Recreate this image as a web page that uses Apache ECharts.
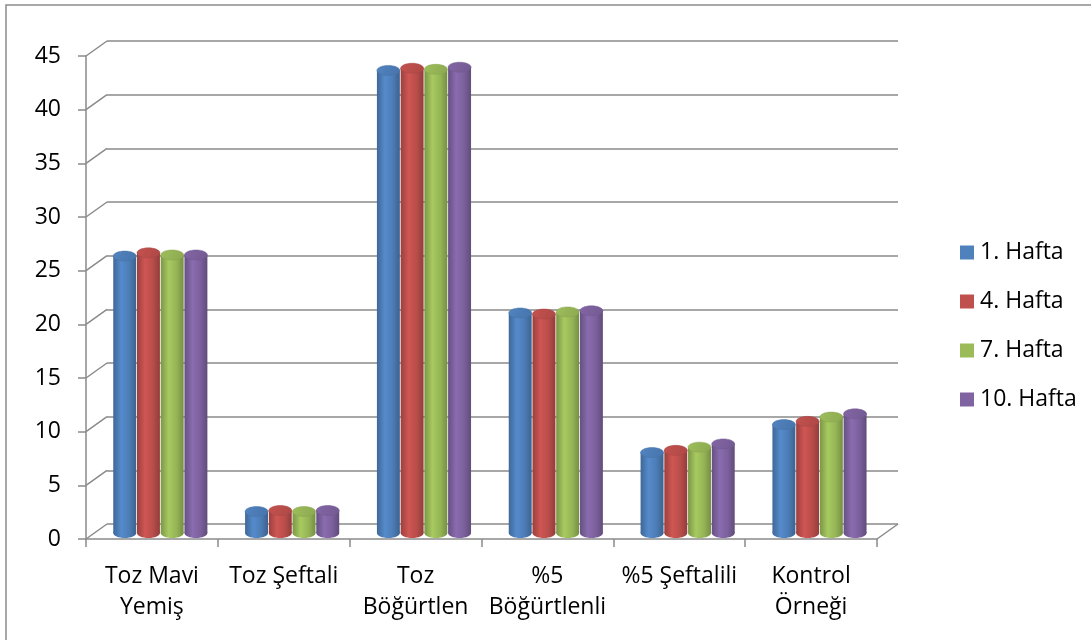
<!DOCTYPE html>
<html>
<head>
<meta charset="utf-8">
<script src="https://cdn.jsdelivr.net/npm/echarts@6/dist/echarts.min.js"></script>
<style>
  html, body { margin: 0; padding: 0; background: #ffffff; }
  #chart { width: 1091px; height: 640px; }
</style>
</head>
<body>
<div id="chart"></div>
<script>
// Categories and weekly measurements
const categories = ['Toz Mavi\nYemiş', 'Toz Şeftali', 'Toz\nBöğürtlen', '%5\nBöğürtlenli', '%5 Şeftalili', 'Kontrol\nÖrneği'];
const week1  = [25.8, 2.0, 43.1, 20.5, 7.5, 10.1];
const week4  = [26.1, 2.1, 43.3, 20.4, 7.7, 10.4];
const week7  = [25.9, 2.0, 43.2, 20.6, 8.0, 10.8];
const week10 = [25.9, 2.1, 43.4, 20.7, 8.3, 11.1];
const seriesNames = ['1. Hafta', '4. Hafta', '7. Hafta', '10. Hafta'];
const yTicks = [0, 5, 10, 15, 20, 25, 30, 35, 40, 45];

const allWeeks = [week1, week4, week7, week10];
const colors = ['#4F81BD', '#C0504D', '#9BBB59', '#8064A2'];
const FONT = 'Open Sans';
const FONT_SIZE = 23;
const LINE = '#8a8a8a';

// Pseudo-3D layout: front plane, back wall and the depth at which the cylinders stand
const front = { left: 86, top: 56, right: 877, bottom: 539 };
const depth = { dx: 21, dy: -15 };
const barDepth = 0.4;

function gridAt(t) {
  return {
    left: front.left + depth.dx * t,
    top: front.top + depth.dy * t,
    width: front.right - front.left,
    height: front.bottom - front.top,
    containLabel: false
  };
}

function shade(hex, f) {
  const n = parseInt(hex.slice(1), 16);
  const r = Math.min(255, Math.round(((n >> 16) & 255) * f));
  const g = Math.min(255, Math.round(((n >> 8) & 255) * f));
  const b = Math.min(255, Math.round((n & 255) * f));
  return 'rgb(' + r + ',' + g + ',' + b + ')';
}

function cylinderItem(k) {
  return function (params, api) {
    const cat = api.value(0);
    const val = api.value(1);
    const top = api.coord([cat, val]);
    const base = api.coord([cat, 0]);
    const band = api.size([1, 0])[0];
    const step = band * 0.18;
    const w = band * 0.174;
    const cx = top[0] + (k - 1.5) * step;
    const ry = 5;
    const c = colors[k];
    const body = new echarts.graphic.LinearGradient(0, 0, 1, 0, [
      { offset: 0, color: shade(c, 0.8) },
      { offset: 0.35, color: shade(c, 1.08) },
      { offset: 0.7, color: shade(c, 0.96) },
      { offset: 1, color: shade(c, 0.76) }
    ]);
    const cap = new echarts.graphic.LinearGradient(0, 0, 1, 1, [
      { offset: 0, color: shade(c, 1.02) },
      { offset: 1, color: shade(c, 0.9) }
    ]);
    return {
      type: 'group',
      children: [
        { type: 'ellipse', shape: { cx: cx, cy: base[1], rx: w / 2, ry: ry }, style: { fill: body } },
        { type: 'rect', shape: { x: cx - w / 2, y: top[1], width: w, height: base[1] - top[1] }, style: { fill: body } },
        { type: 'ellipse', shape: { cx: cx, cy: top[1], rx: w / 2, ry: ry }, style: { fill: cap, stroke: shade(c, 0.88), lineWidth: 0.5 } }
      ]
    };
  };
}

const chart = echarts.init(document.getElementById('chart'), null, { renderer: 'canvas' });

const valueAxisBase = { type: 'value', min: 0, max: 45, interval: 5 };

const option = {
  backgroundColor: '#ffffff',
  animation: false,
  color: colors,
  textStyle: { fontFamily: FONT },
  graphic: [{
    type: 'rect',
    shape: { x: 6, y: 5, width: 1200, height: 800 },
    style: { fill: 'none', stroke: '#8c8c8c', lineWidth: 1.5 },
    silent: true
  }],
  legend: {
    orient: 'vertical',
    left: 955,
    top: 236,
    itemWidth: 14,
    itemHeight: 14,
    itemGap: 26,
    icon: 'rect',
    textStyle: { fontFamily: FONT, fontSize: FONT_SIZE, color: '#000', padding: [0, 0, 0, 1] },
    data: seriesNames
  },
  grid: [gridAt(0), gridAt(1), gridAt(barDepth)],
  xAxis: [
    {
      type: 'category', gridIndex: 0, data: categories,
      axisLine: { show: true, lineStyle: { color: LINE, width: 1.5 } },
      axisTick: { show: true, inside: false, length: 8, lineStyle: { color: LINE, width: 1.5 } },
      axisLabel: { fontFamily: FONT, fontSize: FONT_SIZE, color: '#000', lineHeight: 31, margin: 22, interval: 0 },
      splitLine: { show: false }
    },
    { type: 'category', gridIndex: 1, data: categories, show: false },
    { type: 'category', gridIndex: 2, data: categories, show: false }
  ],
  yAxis: [
    Object.assign({}, valueAxisBase, {
      gridIndex: 0,
      axisLine: { show: true, lineStyle: { color: LINE, width: 1.5 } },
      axisTick: { show: true, inside: false, length: 8, lineStyle: { color: LINE, width: 1.5 } },
      axisLabel: { fontFamily: FONT, fontSize: FONT_SIZE, color: '#000', margin: 25 },
      splitLine: { show: false }
    }),
    Object.assign({}, valueAxisBase, {
      gridIndex: 1,
      axisLine: { show: false }, axisTick: { show: false }, axisLabel: { show: false },
      splitLine: { show: true, lineStyle: { color: LINE, width: 1.5 } }
    }),
    Object.assign({}, valueAxisBase, { gridIndex: 2, show: false })
  ],
  series: [
    // side-wall diagonals joining each front tick to its back-wall gridline
    {
      type: 'custom', xAxisIndex: 0, yAxisIndex: 0, silent: true, z: 1,
      data: yTicks.map(function (v) { return [0, v]; }),
      renderItem: function (params, api) {
        const y = api.coord([0, api.value(1)])[1];
        const x = params.coordSys.x;
        return { type: 'line', shape: { x1: x, y1: y, x2: x + depth.dx, y2: y + depth.dy }, style: { stroke: LINE, lineWidth: 1.5 } };
      }
    },
    // right edge of the floor
    {
      type: 'custom', xAxisIndex: 0, yAxisIndex: 0, silent: true, z: 1,
      data: [[0, 0]],
      renderItem: function (params, api) {
        const y = api.coord([0, 0])[1];
        const x = params.coordSys.x + params.coordSys.width;
        return { type: 'line', shape: { x1: x, y1: y, x2: x + depth.dx, y2: y + depth.dy }, style: { stroke: LINE, lineWidth: 1.5 } };
      }
    }
  ].concat(allWeeks.map(function (vals, k) {
    return {
      name: seriesNames[k],
      type: 'custom',
      xAxisIndex: 2, yAxisIndex: 2,
      z: 3,
      itemStyle: { color: colors[k] },
      encode: { x: 0, y: 1 },
      data: vals.map(function (v, i) { return [i, v]; }),
      renderItem: cylinderItem(k)
    };
  }))
};

chart.setOption(option);
</script>
</body>
</html>
